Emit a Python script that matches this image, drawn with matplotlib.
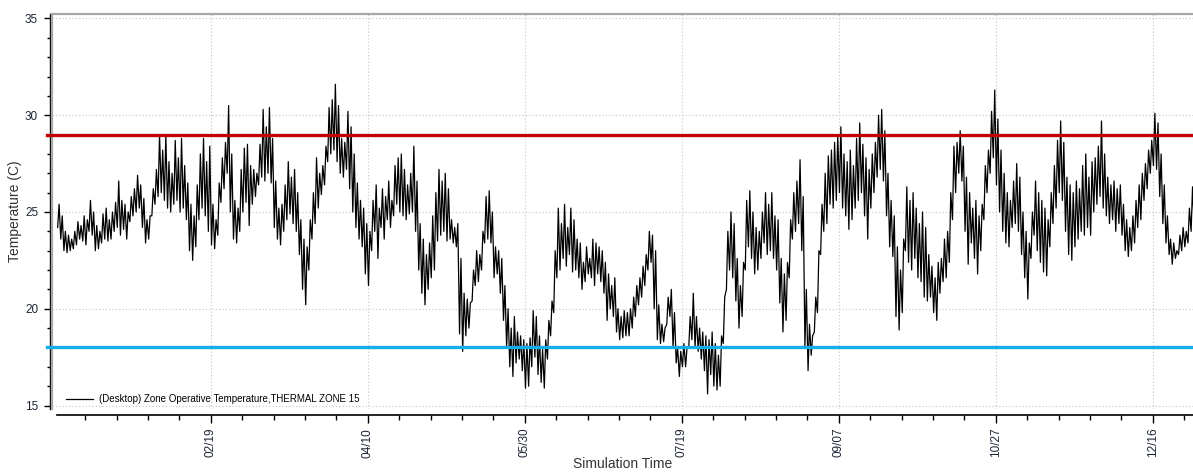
import numpy as np
import matplotlib.pyplot as plt
from matplotlib.ticker import MultipleLocator, FixedLocator
from matplotlib.transforms import ScaledTranslation

plt.rcParams['font.family'] = ['Liberation Sans', 'DejaVu Sans']

# daily maximum / minimum of the zone operative temperature (C), from Jan 1
day_hi = [
    25.4, 24.8, 24.0, 23.8, 23.6, 24.0, 24.5, 24.3, 24.8, 24.6,
    25.6, 25.0, 24.3, 24.0, 24.9, 25.2, 24.6, 25.0, 25.5, 26.6,
    25.6, 25.4, 25.0, 25.8, 26.2, 26.9, 26.4, 25.7, 24.6, 24.8,
    26.2, 27.2, 29.0, 28.2, 29.0, 27.6, 27.0, 28.7, 27.8, 28.8,
    27.4, 26.5, 25.4, 24.8, 26.4, 28.0, 28.8, 27.6, 28.4, 25.4,
    24.6, 26.5, 27.8, 28.6, 30.5, 28.0, 25.6, 25.2, 27.2, 28.3,
    28.5, 27.4, 27.2, 27.0, 28.5, 30.3, 29.4, 30.4, 28.8, 26.6,
    25.2, 25.4, 26.4, 27.6, 26.8, 27.2, 26.0, 24.6, 23.6, 23.2,
    24.6, 26.0, 27.8, 27.0, 27.4, 28.4, 30.4, 30.8, 31.6, 30.5,
    28.8, 28.6, 30.2, 29.4, 28.0, 26.5, 25.6, 25.2, 24.4, 24.0,
    25.6, 26.4, 25.2, 26.2, 25.8, 26.6, 25.6, 27.4, 27.8, 28.0,
    27.2, 26.4, 27.0, 28.4, 26.6, 24.4, 23.6, 22.8, 23.4, 24.8,
    26.0, 27.2, 26.6, 27.0, 26.2, 24.6, 24.2, 24.4, 22.6, 20.8,
    20.5, 20.3, 22.0, 23.0, 22.8, 24.0, 25.8, 26.1, 25.0, 23.2,
    23.0, 22.6, 21.2, 20.0, 19.0, 19.6, 18.8, 18.6, 18.4, 18.2,
    18.5, 19.9, 19.6, 18.6, 17.9, 18.4, 19.4, 20.4, 23.0, 25.2,
    24.4, 25.4, 24.2, 25.2, 24.6, 23.6, 23.4, 22.4, 23.2, 22.6,
    23.6, 23.4, 23.2, 23.0, 22.4, 21.8, 21.2, 21.6, 20.0, 19.6,
    19.9, 19.8, 20.0, 20.6, 21.2, 21.6, 22.2, 22.8, 24.0, 23.8,
    23.0, 20.2, 19.2, 19.0, 20.6, 21.0, 19.8, 18.0, 17.8, 18.2,
    18.0, 19.6, 20.8, 19.6, 19.0, 18.8, 18.6, 18.4, 18.8, 18.2,
    17.6, 18.6, 20.6, 24.0, 25.0, 24.4, 22.6, 21.2, 22.4, 25.6,
    26.1, 25.0, 24.2, 24.0, 25.0, 26.0, 25.4, 26.0, 24.8, 24.6,
    22.6, 21.8, 22.4, 24.6, 26.0, 26.6, 27.7, 25.8, 21.0, 19.2,
    18.6, 20.6, 23.0, 25.4, 27.0, 27.9, 28.2, 28.6, 29.0, 29.4,
    28.0, 27.6, 28.2, 27.4, 28.8, 29.6, 28.5, 27.8, 27.2, 28.0,
    28.6, 30.0, 30.3, 29.2, 27.0, 25.6, 24.8, 23.2, 22.0, 23.6,
    26.3, 25.6, 26.0, 25.2, 24.4, 25.0, 24.2, 22.8, 22.2, 21.6,
    22.4, 22.6, 23.6, 24.0, 26.0, 28.4, 28.6, 29.2, 28.4, 26.8,
    26.0, 25.2, 25.6, 24.8, 25.4, 27.4, 28.2, 30.2, 31.3, 29.8,
    28.2, 27.0, 26.0, 25.6, 26.6, 27.5, 26.8, 25.0, 24.0, 23.4,
    25.0, 26.6, 26.0, 25.6, 25.2, 24.6, 26.0, 27.4, 28.7, 29.7,
    28.6, 26.8, 26.4, 26.0, 26.6, 26.2, 27.4, 28.0, 26.8, 27.6,
    27.8, 28.4, 29.7, 28.0, 26.8, 26.4, 26.6, 26.2, 26.4, 25.4,
    24.6, 24.2, 24.8, 25.6, 26.4, 27.0, 27.5, 28.2, 28.7, 30.1,
    29.6, 28.0, 26.4, 24.8, 23.6, 23.4, 23.0, 23.8, 24.2, 24.0,
    25.2, 26.3, 25.8,
]
day_lo = [
    24.2, 23.6, 23.0, 22.9, 23.0, 23.1, 23.3, 23.6, 23.5, 23.3,
    24.0, 23.8, 23.0, 23.1, 23.4, 23.6, 23.5, 23.6, 24.0, 24.2,
    23.8, 24.1, 23.6, 24.5, 24.8, 25.0, 25.2, 24.2, 23.4, 23.6,
    24.8, 25.4, 25.8, 26.0, 25.6, 25.2, 25.0, 25.4, 25.6, 25.0,
    25.2, 24.6, 23.0, 22.5, 23.2, 24.6, 25.2, 24.8, 24.0, 23.3,
    23.1, 23.8, 25.5, 26.2, 27.0, 25.0, 23.6, 23.4, 24.0, 25.0,
    25.5, 24.3, 25.4, 25.8, 26.4, 26.8, 26.6, 27.0, 26.5, 24.2,
    23.6, 23.3, 24.0, 24.6, 24.9, 24.4, 24.0, 22.8, 21.0, 20.2,
    22.0, 23.6, 24.4, 25.2, 25.9, 26.4, 27.6, 28.0, 28.2, 27.6,
    27.0, 26.8, 27.2, 26.2, 25.0, 24.2, 23.6, 23.2, 21.8, 21.2,
    23.0, 24.0, 22.6, 24.2, 23.6, 24.6, 24.2, 24.8, 25.4, 25.0,
    24.8, 24.6, 24.9, 25.0, 24.0, 22.0, 20.8, 20.2, 21.0, 21.6,
    22.0, 23.5, 23.8, 24.0, 23.5, 23.6, 23.4, 23.2, 18.7, 17.8,
    18.6, 19.0, 20.4, 21.2, 21.4, 22.0, 23.4, 23.6, 23.4, 21.6,
    21.8, 20.8, 19.4, 18.0, 17.0, 16.5, 17.2, 17.4, 16.8, 15.9,
    16.0, 17.0, 17.5, 16.6, 16.2, 15.9, 17.4, 18.6, 19.8, 21.6,
    22.0, 22.6, 22.2, 22.8, 21.9, 22.0, 21.6, 21.0, 21.4, 21.8,
    21.6, 21.2, 21.8, 21.4, 20.8, 19.4, 20.0, 19.6, 18.8, 18.4,
    18.5, 18.6, 18.6, 19.0, 19.6, 20.2, 20.6, 21.2, 22.0, 22.4,
    20.0, 18.4, 18.2, 18.3, 19.2, 19.6, 18.0, 17.2, 16.5, 17.0,
    17.0, 18.0, 18.4, 18.0, 17.8, 17.4, 16.8, 15.6, 16.6, 16.0,
    15.8, 16.0, 18.2, 21.0, 22.0, 21.6, 20.4, 19.0, 19.6, 22.0,
    23.2, 22.6, 21.8, 22.0, 22.6, 23.4, 22.8, 23.0, 22.6, 22.0,
    20.3, 18.8, 19.4, 21.6, 23.6, 24.0, 24.4, 23.0, 18.0, 16.8,
    17.6, 18.8, 19.8, 22.8, 24.0, 24.4, 25.4, 25.2, 25.6, 26.0,
    25.2, 24.8, 24.1, 24.6, 25.2, 25.6, 26.0, 24.8, 23.6, 25.2,
    26.0, 26.8, 27.2, 26.6, 24.8, 23.2, 22.7, 19.6, 18.9, 19.8,
    23.0, 22.4, 22.0, 22.6, 21.6, 21.4, 20.6, 20.4, 20.6, 19.8,
    19.4, 20.8, 21.4, 21.6, 22.4, 24.6, 26.0, 27.0, 26.6, 24.0,
    22.3, 23.4, 22.6, 21.8, 23.0, 24.6, 26.0, 27.0, 27.8, 26.4,
    25.0, 24.0, 23.4, 23.2, 24.2, 24.4, 24.0, 22.8, 21.6, 20.5,
    22.6, 23.8, 23.0, 22.4, 21.9, 21.7, 23.2, 24.4, 25.2, 26.0,
    25.6, 24.0, 22.8, 22.5, 23.2, 23.6, 24.0, 23.8, 24.2, 23.8,
    25.0, 25.4, 25.8, 25.2, 24.8, 24.4, 24.6, 24.0, 24.4, 23.8,
    23.0, 22.7, 23.0, 23.4, 24.2, 24.6, 25.6, 26.2, 27.0, 27.4,
    27.2, 25.8, 24.4, 23.4, 22.8, 22.3, 22.6, 22.8, 23.0, 23.2,
    23.4, 24.0, 24.2,
]

tick_days = [49, 99, 149, 199, 249, 299, 349]
tick_labels = ['02/19', '04/10', '05/30', '07/19', '09/07', '10/27', '12/16']
upper_limit = 29.0
lower_limit = 18.0

# night minimum then afternoon maximum for every day
days = np.arange(len(day_hi))
t = np.column_stack([days + 0.2, days + 0.65]).ravel()
temp = np.column_stack([day_lo, day_hi]).ravel()

fig = plt.figure(figsize=(11.93, 4.73), dpi=100)
ax = fig.add_axes([52 / 1193, 1 - 409 / 473, 1141 / 1193, 395 / 473])

ax.plot(t, temp, color='black', lw=0.9, zorder=2,
        label='(Desktop) Zone Operative Temperature,THERMAL ZONE 15')
ax.axhline(upper_limit, color='#c00000', lw=2.4, xmin=-0.004, clip_on=False, zorder=3)
ax.axhline(lower_limit, color='#16aee6', lw=2.4, xmin=-0.004, clip_on=False, zorder=3)

ax.set_xlim(-1.6, 361.8)
ax.set_ylim(14.82, 35.23)

# frame: grey box on top/left, black axis lines offset outside it
for s in ['top', 'left']:
    ax.spines[s].set_color('#a8a8a8')
    ax.spines[s].set_linewidth(1.6)
ax.spines['right'].set_visible(False)
ax.spines['bottom'].set_position(('outward', 4))
ax.spines['bottom'].set_bounds(0, 362)
ax.spines['bottom'].set_linewidth(1.2)
shift = ScaledTranslation(-2 / 100, 0, fig.dpi_scale_trans)
ax.plot([0, 0], [0, 1], transform=ax.transAxes + shift,
        color='black', lw=1, clip_on=False)

ax.xaxis.set_major_locator(FixedLocator(tick_days))
ax.set_xticklabels(tick_labels, rotation=90, fontsize=8.5, color='#1c2434')
ax.xaxis.set_minor_locator(FixedLocator([d for d in range(9, 362, 10) if d not in tick_days]))
ax.yaxis.set_major_locator(MultipleLocator(5))
ax.yaxis.set_minor_locator(MultipleLocator(1))
ax.tick_params(axis='both', which='major', length=6, width=1, color='black')
ax.tick_params(axis='both', which='minor', length=3.5, width=1, color='black')
ax.tick_params(axis='y', which='both', pad=4)
ax.tick_params(axis='y', labelsize=8.5, labelcolor='#1c2434')

ax.grid(True, which='major', color='#c4c4c4', linestyle=(0, (1, 2)), lw=0.8)
ax.grid(False, which='minor')
ax.set_axisbelow(True)

ax.set_xlabel('Simulation Time', fontsize=10, color='#333333')
ax.xaxis.set_label_coords(0.5, -0.122)
ax.set_ylabel('Temperature (C)', fontsize=10, color='#333333')
ax.yaxis.set_label_coords(-0.026, 0.5)

ax.legend(loc='lower left', frameon=False, fontsize=7, handlelength=2.8,
          handletextpad=0.6, borderaxespad=0.3, borderpad=0.2,
          bbox_to_anchor=(0.008, 0.0))

fig.savefig('out.png', dpi=100)
